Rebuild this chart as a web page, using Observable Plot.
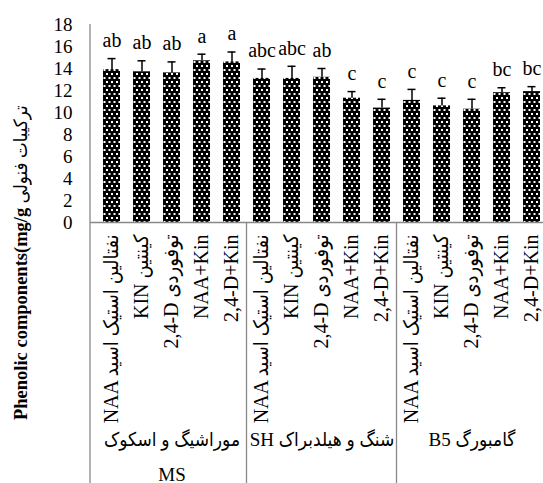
<!DOCTYPE html>
<html><head><meta charset="utf-8">
<script src="https://cdn.jsdelivr.net/npm/d3@7"></script>
<script src="https://cdn.jsdelivr.net/npm/@observablehq/plot@0.6"></script>
<style>
html,body{margin:0;padding:0;background:#fff;overflow:hidden;width:543px;height:483px}
#chart{position:relative;width:543px;height:483px;overflow:hidden}
#chart svg{max-width:none !important;width:560px !important;height:483px !important;
  font-family:'Liberation Serif','Times New Roman','DejaVu Sans Condensed','DejaVu Sans',serif !important}
#chart svg text{font-family:'Liberation Serif','Times New Roman','DejaVu Sans Condensed','DejaVu Sans',serif !important}
</style></head><body><div id="chart"></div>
<script>
const media = ["MS", "SH", "B5"];
const mediumNames = ["موراشیگ و اسکوک", "SH شنگ و هیلدبراک", "B5 گامبورگ"];
const mediumSecondLine = ["MS", "", ""];
const treatments = ["NAA نفتالین استیک اسید", "KIN کینتین", "2,4-D توفوردی", "NAA+Kin", "2,4-D+Kin"];
const values = [13.9, 13.7, 13.6, 14.7, 14.6, 13.1, 13.1, 13.2, 11.3, 10.4, 11.1, 10.6, 10.3, 11.8, 11.9];
const errors = [1.0, 1.0, 1.0, 0.6, 0.9, 0.85, 1.1, 0.8, 0.6, 0.8, 1.0, 0.7, 0.9, 0.45, 0.45];
const letters = ["ab", "ab", "ab", "a", "a", "abc", "abc", "ab", "c", "c", "c", "c", "c", "bc", "bc"];
const yTicks = [0, 2, 4, 6, 8, 10, 12, 14, 16, 18];
const yTitleEn = "Phenolic components(mg/g";
const yTitleFa = "ترکیبات فنولی";

const data = [];
media.forEach((m, gi) => treatments.forEach((t, ti) => {
  const i = gi * treatments.length + ti;
  data.push({key: m + "|" + t, medium: m, treatment: t, value: values[i], err: errors[i], letter: letters[i]});
}));
const keys = data.map(d => d.key);
const groupData = media.map((m, gi) => ({key: m + "|" + treatments[2], line1: mediumNames[gi], line2: mediumSecondLine[gi]}));

const serif = "'Liberation Serif','Times New Roman','DejaVu Sans Condensed','DejaVu Sans',serif";
const plot = Plot.plot({
  width: 560, height: 483,
  marginLeft: 90, marginRight: 7, marginTop: 24, marginBottom: 261,
  style: {fontFamily: serif, fontSize: "19px", background: "#fff", overflow: "visible", color: "#000", maxWidth: "none"},
  x: {type: "band", domain: keys, paddingInner: 0.42, paddingOuter: 0.21},
  y: {domain: [0, 18]},
  marks: [
    Plot.barY(data, {x: "key", y: "value", fill: "url(#dotgrid)"}),
    Plot.ruleX(data, {x: "key", y1: "value", y2: d => d.value + d.err, stroke: "#000", strokeWidth: 1.5}),
    Plot.tickY(data, {x: "key", y: d => d.value + d.err, stroke: "#000", strokeWidth: 1.5, insetLeft: 4.5, insetRight: 4.5}),
    Plot.text(data, {x: "key", y: d => d.value + d.err, text: "letter", dy: -18, fontSize: 20, fontFamily: serif, fill: "#000"}),
    Plot.ruleY([0], {stroke: "#888", strokeWidth: 1.3}),
    Plot.axisY(yTicks, {tickSize: 0, tickPadding: 18, fontSize: 19, fontFamily: serif, tickFormat: d => String(d), label: null}),
    Plot.axisX({tickSize: 0, tickPadding: 12, tickRotate: -90, fontSize: 20, fontFamily: serif, tickFormat: k => k.split("|")[1], label: null}),
    Plot.text(groupData, {x: "key", frameAnchor: "bottom", dy: 223, text: "line1", fontSize: 19, fontFamily: serif, fill: "#000"}),
    Plot.text(groupData, {x: "key", frameAnchor: "bottom", dy: 258, text: "line2", fontSize: 19, fontFamily: serif, fill: "#000"})
  ]
});

const svg = d3.select(plot);
const defs = svg.insert("defs", ":first-child");
const pat = defs.append("pattern").attr("id", "dotgrid").attr("patternUnits", "userSpaceOnUse")
  .attr("width", 5).attr("height", 8);
pat.append("rect").attr("width", 5).attr("height", 8).attr("fill", "#000");
pat.append("rect").attr("x", 1).attr("y", 1).attr("width", 2).attr("height", 2).attr("fill", "#fff");
pat.append("rect").attr("x", 3.5).attr("y", 5).attr("width", 1.5).attr("height", 2).attr("fill", "#fff");
pat.append("rect").attr("x", 0).attr("y", 5).attr("width", 0.5).attr("height", 2).attr("fill", "#fff");

const sx = plot.scale("x"), sy = plot.scale("y");
const yBase = sy.apply(0), yTop = sy.apply(18), H = 483;
const per = treatments.length;
const sepXs = [];
for (let g = 1; g < media.length; g++) {
  const i = g * per;
  sepXs.push((sx.apply(keys[i - 1]) + sx.apply(keys[i])) / 2 + sx.bandwidth / 2);
}
const gl = svg.append("g").attr("stroke", "#888").attr("stroke-width", 1.3);
gl.append("line").attr("x1", sx.range[0]).attr("x2", sx.range[0]).attr("y1", yTop).attr("y2", H);
sepXs.forEach(x => gl.append("line").attr("x1", x).attr("x2", x).attr("y1", yBase).attr("y2", H));
gl.append("line").attr("x1", sx.range[1]).attr("x2", sx.range[1]).attr("y1", yBase).attr("y2", H);

const title = svg.append("text")
  .attr("transform", "translate(27,420) rotate(-90)")
  .attr("text-anchor", "start")
  .attr("font-size", 18.5)
  .attr("fill", "#000");
title.append("tspan").attr("font-weight", "bold").text(yTitleEn);
title.append("tspan").attr("font-weight", "normal").text(" " + yTitleFa);

document.getElementById("chart").appendChild(plot);
</script>
</body></html>
